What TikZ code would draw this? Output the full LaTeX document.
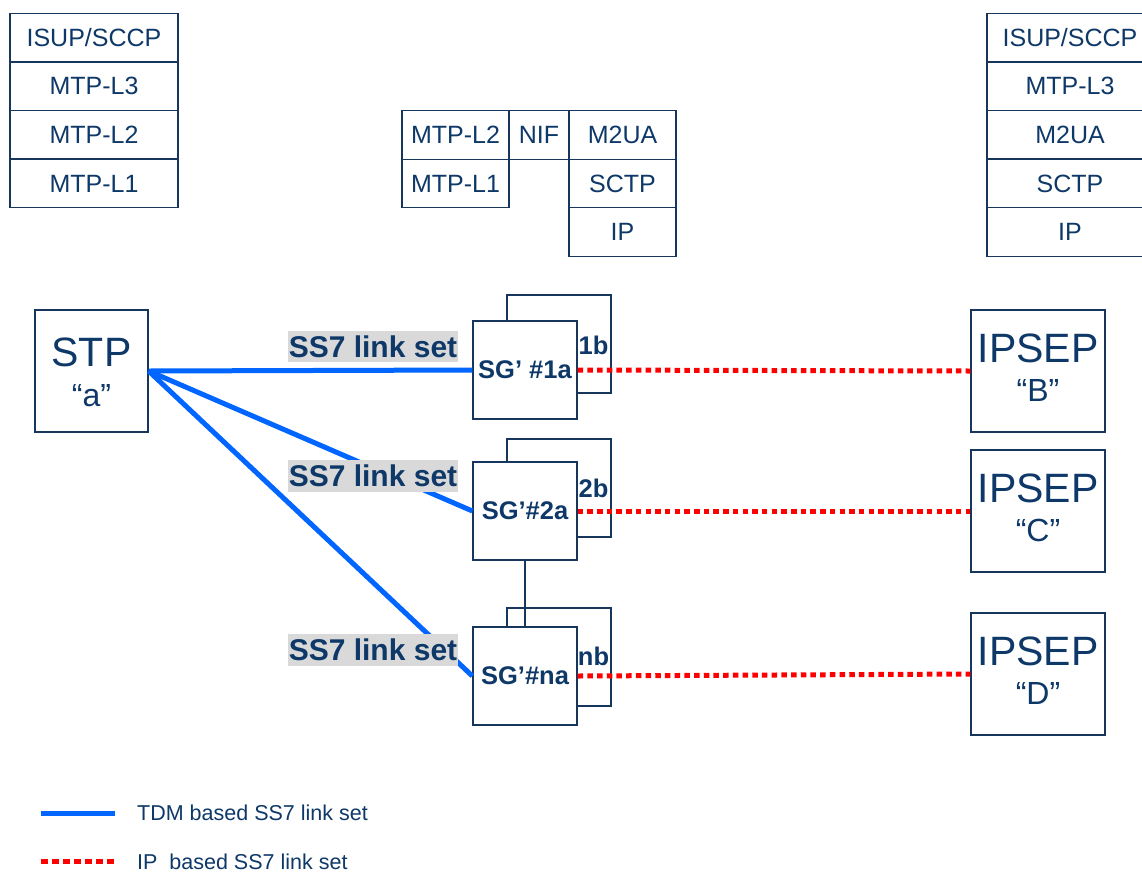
\documentclass[tikz,border=0pt]{standalone}
\usepackage{fontspec}
\setmainfont{Liberation Sans}
\definecolor{dark}{RGB}{14,56,104}
\definecolor{bord}{RGB}{22,54,92}
\definecolor{lblue}{RGB}{0,102,255}
\definecolor{lred}{RGB}{255,0,0}
\definecolor{lgray}{RGB}{217,217,217}
\begin{document}
\begin{tikzpicture}[x=1pt,y=-1pt,
 cell/.style={draw=bord,line width=1.4pt,text=dark,inner sep=0pt,font=\fontsize{25}{25}\selectfont},
 lcell/.style={cell,minimum width=168pt,minimum height=48.5pt},
 rcell/.style={cell,minimum width=166pt,minimum height=48.5pt},
 mcell/.style={cell,minimum width=107pt,minimum height=48.5pt},
 bigbox/.style={draw=bord,line width=1.3pt,fill=white,minimum width=#1,minimum height=122pt,inner sep=0pt},
 bigtxt/.style={text=dark,inner sep=0pt,font=\fontsize{41}{41}\selectfont},
 quotetxt/.style={text=dark,inner sep=0pt,font=\fontsize{32}{32}\selectfont},
 sgbox/.style={draw=bord,line width=1.3pt,fill=white,minimum width=104pt,minimum height=98pt,inner sep=0pt,text=dark,font=\bfseries\fontsize{25.5}{25.5}\selectfont},
 sgtxt/.style={text=dark,inner sep=0pt,font=\bfseries\fontsize{25.5}{25.5}\selectfont},
 linklbl/.style={fill=lgray,text=dark,inner xsep=1pt,inner ysep=4.5pt,font=\bfseries\fontsize{30}{30}\selectfont},
 tdm/.style={draw=lblue,line width=5pt},
 iplink/.style={draw=lred,line width=5pt,dash pattern=on 5.5pt off 4.2pt},
 legtxt/.style={text=dark,inner sep=0pt,anchor=west,font=\fontsize{21.5}{21.5}\selectfont}
]
\useasboundingbox (0,0) rectangle (1142,873);
\clip (0,0) rectangle (1142,873);

% left stack
\node[lcell] (l1) at (94,38) {ISUP/SCCP};
\node[lcell] (l2) at (94,86) {MTP-L3};
\node[lcell] (l3) at (94,134.5) {MTP-L2};
\node[lcell] (l4) at (94,183.5) {MTP-L1};

% middle stack
\node[mcell] (m1) at (455.5,135) {MTP-L2};
\node[cell,minimum width=60pt,minimum height=48.5pt] (m2) at (539,135) {NIF};
\node[mcell] (m3) at (622.5,135) {M2UA};
\node[mcell] (m4) at (455.5,183.5) {MTP-L1};
\node[mcell] (m5) at (622.5,183.5) {SCTP};
\node[mcell] (m6) at (622.5,232) {IP};

% right stack
\node[rcell] (r1) at (1070,38) {ISUP/SCCP};
\node[rcell] (r2) at (1070,86) {MTP-L3};
\node[rcell] (r3) at (1070,134.5) {M2UA};
\node[rcell] (r4) at (1070,183.5) {SCTP};
\node[rcell] (r5) at (1070,232) {IP};

% STP
\node[bigbox=113pt] (stp) at (91.5,371) {};
\node[bigtxt] (stpname) at (91.5,352) {STP};
\node[quotetxt] (stpq) at (91.5,396) {“a”};

% IPSEPs
\node[bigbox=134pt] (ipb) at (1038,371) {};
\node[bigtxt] (ipbname) at (1038,348) {IPSEP};
\node[quotetxt] (ipbq) at (1038,390) {“B”};
\node[bigbox=134pt] (ipc) at (1038,511) {};
\node[bigtxt] (ipcname) at (1038,488) {IPSEP};
\node[quotetxt] (ipcq) at (1038,530) {“C”};
\node[bigbox=134pt] (ipd) at (1038,674) {};
\node[bigtxt] (ipdname) at (1038,651) {IPSEP};
\node[quotetxt] (ipdq) at (1038,693) {“D”};

% SG back boxes
\node[sgbox] (sg1b) at (559,344) {};
\node[sgtxt] (sg1bt) at (593.5,345) {1b};
\node[sgbox] (sg2b) at (559,488) {};
\node[sgtxt] (sg2bt) at (593.5,488) {2b};
\node[sgbox] (sgnb) at (559,657) {};
\node[sgtxt] (sgnbt) at (593.5,656) {nb};

% SG front boxes
\node[sgbox] (sg1) at (525,370) {SG’ \#1a};
\node[sgbox] (sg2) at (525,511) {SG’\#2a};
\node[sgbox] (sgn) at (525,676) {SG’\#na};
\draw[draw=bord,line width=1.3pt] (sg2.south) -- (sgn.north);

% TDM links
\draw[tdm] (stp.east) -- (sg1.west);
\draw[tdm] (stp.east) -- (sg2.west);
\draw[tdm] (stp.east) -- (sgn.west);

% IP links
\draw[iplink] (sg1.east) -- (ipb.west);
\draw[iplink] (sg2.east) -- (ipc.west);
\draw[iplink] (sgn.east) -- (ipd.west);

% link set labels
\node[linklbl] (ls1) at (373,346.5) {SS7 link set};
\node[linklbl] (ls2) at (373,476) {SS7 link set};
\node[linklbl] (ls3) at (373,650) {SS7 link set};

% legend
\coordinate (lg1a) at (41,813);
\coordinate (lg1b) at (115,813);
\coordinate (lg2a) at (41,861);
\coordinate (lg2b) at (115,861);
\draw[tdm] (lg1a) -- (lg1b);
\draw[iplink,dash pattern=on 7pt off 4pt] (lg2a) -- (lg2b);
\node[legtxt] (lgt1) at (137,813) {TDM based SS7 link set};
\node[legtxt] (lgt2) at (137,862) {IP~ based SS7 link set};
\end{tikzpicture}
\end{document}
